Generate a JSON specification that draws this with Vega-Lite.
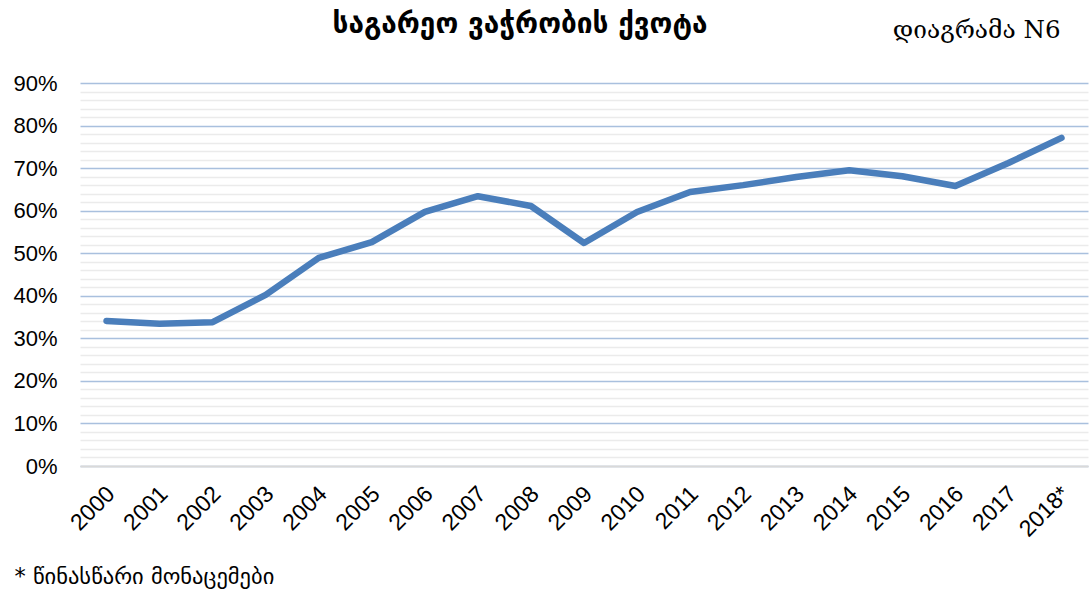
{
  "$schema": "https://vega.github.io/schema/vega-lite/v6.json",
  "autosize": "none",
  "width": 1008,
  "height": 383,
  "padding": {"left": 80, "top": 83, "right": 2, "bottom": 126},
  "background": "white",
  "title": {
    "text": "საგარეო ვაჭრობის ქვოტა",
    "font": "DejaVu Sans",
    "fontSize": 28,
    "fontWeight": "bold",
    "color": "#000000",
    "anchor": "middle",
    "frame": "group",
    "dx": -64,
    "dy": 26
  },
  "data": {
    "values": [
      {"year": "2000", "value": 0.341},
      {"year": "2001", "value": 0.334},
      {"year": "2002", "value": 0.338},
      {"year": "2003", "value": 0.402},
      {"year": "2004", "value": 0.489},
      {"year": "2005", "value": 0.526},
      {"year": "2006", "value": 0.597},
      {"year": "2007", "value": 0.634},
      {"year": "2008", "value": 0.611},
      {"year": "2009", "value": 0.524},
      {"year": "2010", "value": 0.597},
      {"year": "2011", "value": 0.644},
      {"year": "2012", "value": 0.660},
      {"year": "2013", "value": 0.679},
      {"year": "2014", "value": 0.695},
      {"year": "2015", "value": 0.681},
      {"year": "2016", "value": 0.658},
      {"year": "2017", "value": 0.712},
      {"year": "2018*", "value": 0.771}
    ]
  },
  "config": {"view": {"stroke": null}},
  "layer": [
    {
      "mark": {"type": "line", "opacity": 0},
      "encoding": {
        "x": {
          "field": "year", "type": "ordinal", "sort": null,
          "scale": {"type": "point", "padding": 0.5},
          "axis": {
            "orient": "top", "labels": false, "ticks": false, "domain": false, "grid": false,
            "title": "დიაგრამა N6",
            "titleFont": "DejaVu Serif", "titleFontSize": 24.5, "titleFontWeight": "normal", "titleColor": "#000000",
            "titleAnchor": null, "titleAlign": "right", "titleBaseline": "alphabetic",
            "titleX": 980, "titleY": -46
          }
        },
        "y": {
          "field": "value", "type": "quantitative",
          "scale": {"domain": [0, 0.9], "nice": false, "zero": true},
          "axis": {
            "orient": "left",
            "values": [0.02,0.04,0.06,0.08,0.12,0.14,0.16,0.18,0.22,0.24,0.26,0.28,0.32,0.34,0.36,0.38,0.42,0.44,0.46,0.48,0.52,0.54,0.56,0.58,0.62,0.64,0.66,0.68,0.72,0.74,0.76,0.78,0.82,0.84,0.86,0.88],
            "labels": false, "ticks": false, "domain": false, "title": null,
            "grid": true, "gridColor": "#ebebeb", "gridWidth": 1.5
          }
        }
      }
    },
    {
      "mark": {"type": "line", "color": "#4a7ebb", "strokeWidth": 6.5, "strokeCap": "round", "strokeJoin": "round"},
      "encoding": {
        "x": {
          "field": "year", "type": "ordinal", "sort": null,
          "scale": {"type": "point", "padding": 0.5},
          "axis": {
            "orient": "bottom", "labelAngle": -45, "labelAlign": "right", "labelBaseline": "middle",
            "labelFont": "Liberation Sans", "labelFontSize": 23, "labelColor": "#000000",
            "labelPadding": 24, "labelOffset": 4, "ticks": false, "grid": false,
            "domain": true, "domainColor": "#d9d9d9", "domainWidth": 2,
            "title": "* წინასწარი მონაცემები",
            "titleFont": "DejaVu Sans", "titleFontSize": 22.5, "titleFontWeight": "normal", "titleColor": "#000000",
            "titleAnchor": null, "titleAlign": "left", "titleBaseline": "alphabetic",
            "titleX": -66, "titleY": 117
          }
        },
        "y": {
          "field": "value", "type": "quantitative",
          "scale": {"domain": [0, 0.9], "nice": false, "zero": true},
          "axis": {
            "orient": "left",
            "values": [0.1,0.2,0.3,0.4,0.5,0.6,0.7,0.8,0.9,0],
            "format": ".0%",
            "labelFont": "Liberation Sans", "labelFontSize": 22, "labelColor": "#000000",
            "labelPadding": 23, "ticks": false, "domain": false, "title": null,
            "grid": true, "gridColor": "#a9c0de", "gridWidth": 1.5
          }
        }
      }
    }
  ],
  "resolve": {"axis": {"x": "independent", "y": "independent"}}
}
